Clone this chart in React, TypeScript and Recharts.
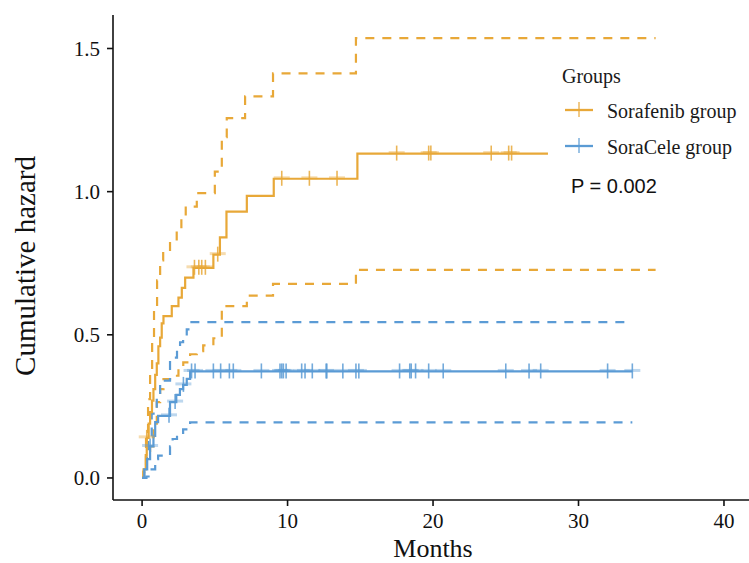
import {
  ComposedChart,
  Line,
  Scatter,
  XAxis,
  YAxis,
} from "recharts";

// Cumulative hazard steps (months / hazard)
const sorafenibTime = [0, 0.1, 0.25, 0.32, 0.45, 0.55, 0.68, 0.78, 0.9, 1.01, 1.12, 1.24, 1.35, 1.47, 2.04, 2.5, 2.73, 2.96, 3.53, 4.9, 5.35, 5.8, 7.2, 9.05, 14.8, 27.9];
const sorafenibHaz = [0, 0.03, 0.08, 0.14, 0.19, 0.23, 0.27, 0.31, 0.36, 0.4, 0.46, 0.49, 0.54, 0.565, 0.6, 0.63, 0.664, 0.7, 0.734, 0.78, 0.84, 0.93, 0.985, 1.045, 1.133, 1.133];

const sorafenibUpTime = [0, 0.1, 0.27, 0.41, 0.55, 0.69, 0.82, 1.03, 1.24, 1.45, 1.92, 2.38, 2.7, 3.0, 3.76, 5.0, 5.48, 5.82, 7.08, 9.0, 14.7, 35.3];
const sorafenibUpHaz = [0, 0.04, 0.136, 0.275, 0.38, 0.485, 0.59, 0.69, 0.76, 0.79, 0.825, 0.865, 0.905, 0.948, 0.995, 1.07, 1.19, 1.257, 1.333, 1.413, 1.536, 1.536];

const sorafenibLoTime = [0, 0.1, 0.3, 0.55, 0.78, 1.01, 1.24, 1.47, 1.92, 2.5, 2.83, 3.3, 3.76, 4.2, 4.9, 5.48, 5.8, 7.2, 9.0, 14.7, 35.3];
const sorafenibLoHaz = [0, 0.02, 0.07, 0.11, 0.17, 0.265, 0.31, 0.345, 0.357, 0.38, 0.404, 0.432, 0.443, 0.463, 0.488, 0.59, 0.6, 0.637, 0.678, 0.727, 0.727];

const soraCeleTime = [0, 0.15, 0.35, 0.55, 0.78, 0.9, 1.1, 1.92, 2.35, 2.6, 2.82, 3.07, 3.3, 33.7];
const soraCeleHaz = [0, 0.03, 0.066, 0.11, 0.147, 0.195, 0.217, 0.265, 0.29, 0.31, 0.325, 0.346, 0.372, 0.372];

const soraCeleUpTime = [0, 0.15, 0.3, 0.43, 0.66, 1.01, 1.24, 1.92, 2.13, 2.4, 2.61, 2.82, 3.07, 3.3, 33.7];
const soraCeleUpHaz = [0, 0.04, 0.08, 0.125, 0.225, 0.29, 0.34, 0.405, 0.42, 0.444, 0.474, 0.484, 0.519, 0.544, 0.544];

const soraCeleLoTime = [0, 0.3, 0.55, 0.9, 1.1, 1.92, 2.1, 2.4, 2.82, 3.3, 33.7];
const soraCeleLoHaz = [0, 0.005, 0.03, 0.066, 0.078, 0.11, 0.136, 0.15, 0.17, 0.194, 0.194];

// censoring times
const sorafenibCensor = [0.32, 3.6, 3.9, 4.1, 4.35, 5.2, 9.6, 11.5, 13.4, 17.5, 19.7, 19.85, 24.0, 25.2, 25.4];
const soraCeleCensor = [0.55, 1.85, 2.27, 2.84, 3.4, 3.64, 4.9, 5.4, 6.0, 6.27, 8.2, 9.48, 9.6, 9.71, 9.9, 10.97, 11.2, 11.7, 12.65, 12.7, 13.8, 14.7, 14.9, 17.7, 18.4, 18.5, 18.8, 19.7, 20.7, 25.0, 26.6, 27.4, 32.0, 33.7];

const xTicks = [0, 10, 20, 30, 40];
const yTicks = [0, 0.5, 1.0, 1.5];

const ORANGE = "#E8A838";
const BLUE = "#5B9BD5";
const SERIF = "'Liberation Serif', 'Times New Roman', serif";

const toRows = (t: number[], v: number[]) => t.map((x, i) => ({ t: x, v: v[i] }));

const valueAt = (t: number[], v: number[], x: number) => {
  let out = v[0];
  for (let i = 0; i < t.length; i++) if (t[i] <= x) out = v[i];
  return out;
};

const censorRows = (c: number[], t: number[], v: number[]) =>
  c.map((x) => ({ t: x, v: valueAt(t, v, x) }));

const Cross = (color: string) => (props: any) => {
  const { cx, cy } = props;
  if (cx == null || cy == null) return null;
  return (
    <g>
      <line x1={cx - 8} x2={cx + 8} y1={cy - 1} y2={cy - 1} stroke={color} strokeWidth={3} strokeOpacity={0.4} />
      <line x1={cx} x2={cx} y1={cy - 8} y2={cy + 7} stroke={color} strokeWidth={1.6} strokeOpacity={0.85} />
    </g>
  );
};

function LegendKey({ y, color, label }: { y: number; color: string; label: string }) {
  return (
    <g>
      <line x1={565} x2={593} y1={y} y2={y} stroke={color} strokeWidth={2} />
      <line x1={565} x2={593} y1={y} y2={y} stroke={color} strokeWidth={3} strokeOpacity={0.3} />
      <line x1={579} x2={579} y1={y - 8} y2={y + 7} stroke={color} strokeWidth={1.5} strokeOpacity={0.8} />
      <text x={607} y={y + 1} dominantBaseline="central" fontFamily={SERIF} fontSize={20} fill="#1a1a1a">
        {label}
      </text>
    </g>
  );
}

export default function App() {
  const solid = { type: "stepAfter" as const, dataKey: "v", dot: false, isAnimationActive: false, strokeWidth: 2.2 };
  const dashed = { ...solid, strokeDasharray: "9 8" };

  return (
    <div style={{ position: "absolute", left: 0, top: 0, width: 749, height: 563, background: "#fff", overflow: "hidden" }}>
      <ComposedChart width={749} height={563} margin={{ top: 15, right: 0, bottom: 0, left: 0 }}>
        <XAxis
          type="number"
          dataKey="t"
          domain={[-2, 41.72]}
          allowDataOverflow
          ticks={xTicks}
          tickSize={6}
          tickMargin={7.5}
          height={63}
          stroke="#111"
          strokeWidth={1.6}
          tick={{ fontSize: 21, fontFamily: SERIF, fill: "#111" }}
          label={{
            content: () => (
              <text x={433} y={557} textAnchor="middle" fontFamily={SERIF} fontSize={26} fill="#111">
                Months
              </text>
            ),
          }}
        />
        <YAxis
          type="number"
          dataKey="v"
          domain={[-0.077, 1.617]}
          allowDataOverflow
          ticks={yTicks}
          tickFormatter={(v: number) => v.toFixed(1)}
          width={113}
          tickSize={6}
          tickMargin={7}
          stroke="#111"
          strokeWidth={1.6}
          tick={{ fontSize: 21, fontFamily: SERIF, fill: "#111" }}
          label={{
            content: () => (
              <text x={35} y={266} transform="rotate(-90 35 266)" textAnchor="middle" fontFamily={SERIF} fontSize={29} fill="#111">
                Cumulative hazard
              </text>
            ),
          }}
        />
        <Line {...dashed} data={toRows(sorafenibUpTime, sorafenibUpHaz)} stroke={ORANGE} />
        <Line {...dashed} data={toRows(sorafenibLoTime, sorafenibLoHaz)} stroke={ORANGE} />
        <Line {...dashed} data={toRows(soraCeleUpTime, soraCeleUpHaz)} stroke={BLUE} />
        <Line {...dashed} data={toRows(soraCeleLoTime, soraCeleLoHaz)} stroke={BLUE} />
        <Line {...solid} data={toRows(sorafenibTime, sorafenibHaz)} stroke={ORANGE} />
        <Line {...solid} data={toRows(soraCeleTime, soraCeleHaz)} stroke={BLUE} />
        <Scatter
          data={censorRows(sorafenibCensor, sorafenibTime, sorafenibHaz)}
          dataKey="v"
          shape={Cross(ORANGE)}
          isAnimationActive={false}
        />
        <Scatter
          data={censorRows(soraCeleCensor, soraCeleTime, soraCeleHaz)}
          dataKey="v"
          shape={Cross(BLUE)}
          isAnimationActive={false}
        />
      </ComposedChart>
      <svg width={749} height={563} style={{ position: "absolute", left: 0, top: 0, pointerEvents: "none" }}>
        <text x={562} y={76} dominantBaseline="central" fontFamily={SERIF} fontSize={20} fill="#1a1a1a">
          Groups
        </text>
        <LegendKey y={110} color={ORANGE} label="Sorafenib group" />
        <LegendKey y={146} color={BLUE} label="SoraCele group" />
        <text x={571} y={186} dominantBaseline="central" fontFamily="'Liberation Sans', Arial, sans-serif" fontSize={20} fill="#111">
          P = 0.002
        </text>
      </svg>
    </div>
  );
}
